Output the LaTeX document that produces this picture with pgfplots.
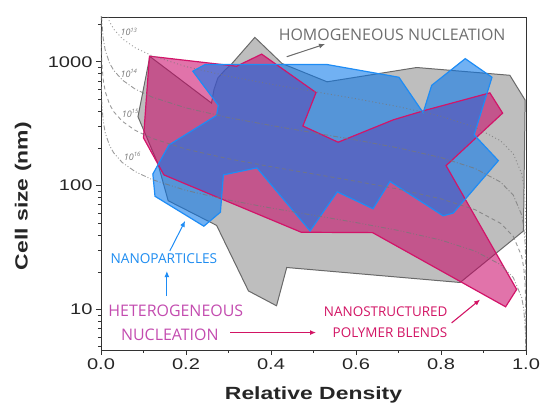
\documentclass[border=0pt]{standalone}
\usepackage{fontspec}
\usepackage{pgfplots}
\usepackage{pgfplotstable}
\pgfplotsset{compat=1.18}
\usetikzlibrary{arrows.meta}
\setmainfont{Liberation Sans}
\newfontfamily\axisfont[FakeStretch=1.3]{Liberation Sans}
\newfontfamily\osans{Open Sans}

\definecolor{grayfill}{RGB}{190,190,190}
\definecolor{grayedge}{RGB}{105,105,105}
\definecolor{pinkfill}{RGB}{200,0,100}
\definecolor{pinkedge}{RGB}{210,20,105}
\definecolor{bluefill}{RGB}{10,120,235}
\definecolor{blueedge}{RGB}{30,140,245}
\definecolor{curvegray}{RGB}{120,120,120}
\definecolor{hettext}{RGB}{195,75,175}
\definecolor{nanotext}{RGB}{210,20,100}
\definecolor{nptext}{RGB}{30,140,240}
\definecolor{homtext}{RGB}{110,110,110}

\pgfplotstableread{
x y
0.087 360
0.115 1104
0.260 464
0.266 600
0.275 740
0.292 860
0.307 957
0.362 1574
0.426 968
0.532 689
0.743 899
0.962 778
0.998 490
0.994 43
0.845 16.5
0.437 21.8
0.413 10.7
0.347 14.1
0.272 47.7
0.158 75.5
0.134 150
}\graydata

\pgfplotstableread{
x y
0.114 1110
0.319 921
0.378 1153
0.506 564
0.475 303
0.558 224
0.688 340
0.762 405
0.915 561
0.945 385
0.812 145
0.978 14.5
0.952 10.5
0.639 41.7
0.471 42
0.148 122
0.100 243
}\pinkdata

\pgfplotstableread{
x y
0.216 840
0.245 950
0.532 950
0.701 750
0.758 388
0.778 645
0.857 1060
0.920 750
0.878 257
0.935 159
0.829 60
0.805 57
0.680 108
0.640 65
0.556 89
0.492 43
0.367 139
0.288 122
0.281 61
0.242 47
0.127 82
0.122 124
0.160 213
0.272 369
0.276 444
}\bluedata

\pgfplotstableread{
x y
0.005 3362
0.01 2664
0.02 2107
0.03 1835
0.05 1536
0.08 1300
0.12 1119
0.2 914
0.3 764
0.4 659
0.5 576
0.6 503
0.7 434
0.8 363
0.88 296
0.94 230
0.97 181
0.99 124.5
0.995 98.7
0.998 72.6
0.999 57.6
0.9997 38.6
0.9999 26.7
0.99999 12.4
0.999999 5.76
0.9999995 4.57
}\cthirteen

\pgfplotstableread{
x y
0.0005 3368
0.002 2120
0.005 1560
0.01 1237
0.02 978
0.03 852
0.05 713
0.08 603
0.12 519
0.2 424
0.3 354
0.4 306
0.5 267
0.6 233.5
0.7 201.5
0.8 168.4
0.88 137.6
0.94 106.8
0.97 83.9
0.99 57.8
0.995 45.8
0.998 33.7
0.999 26.7
0.9997 17.9
0.9999 12.4
0.99999 5.76
0.999997 3.85
}\cfourteen

\pgfplotstableread{
x y
0.0001 2673
0.0005 1564
0.002 984
0.005 724.5
0.01 574
0.02 454
0.03 395
0.05 331
0.08 280
0.12 241
0.2 197
0.3 164.6
0.4 142.1
0.5 124.1
0.6 108.4
0.7 93.6
0.8 78.2
0.88 63.9
0.94 49.6
0.97 39.0
0.99 26.8
0.995 21.3
0.998 15.6
0.999 12.4
0.9997 8.3
0.9999 5.76
0.99999 2.67
}\cfifteen

\pgfplotstableread{
x y
0.00001 2673
0.00002 2122
0.0001 1240
0.0005 726
0.002 457
0.005 336
0.01 266.4
0.02 210.7
0.03 183.5
0.05 153.6
0.08 130
0.12 111.9
0.2 91.4
0.3 76.4
0.4 65.9
0.5 57.6
0.6 50.3
0.7 43.4
0.8 36.3
0.88 29.6
0.94 23.0
0.97 18.1
0.99 12.45
0.995 9.87
0.998 7.26
0.999 5.76
0.9997 3.86
}\csixteen

\begin{document}
\begin{tikzpicture}
\path[use as bounding box] (-101bp,-58bp) rectangle (440bp,350bp);
\begin{axis}[
  at={(0,0)}, anchor=south west,
  width=425bp, height=333bp, scale only axis,
  xmin=0, xmax=1, ymin=4.7, ymax=2300, ymode=log,
  xtick={0,0.2,0.4,0.6,0.8,1.0},
  xticklabels={0.0,0.2,0.4,0.6,0.8,1.0},
  minor xtick={0.1,0.3,0.5,0.7,0.9},
  ytick={10,100,1000}, yticklabels={10,100,1000},
  minor ytick={5,6,7,8,9,20,30,40,50,60,70,80,90,200,300,400,500,600,700,800,900,2000},
  tick pos=left, tick align=outside,
  major tick length=5bp, minor tick length=3bp,
  axis line style={line width=0.8pt, black!80},
  every tick/.style={black!80, line width=0.7pt},
  tick label style={font=\axisfont\fontsize{15.5}{15.5}\selectfont, black!85},
  /pgf/number format/assume math mode=true,
  xlabel={Relative Density}, ylabel={Cell size (nm)},
  label style={font=\axisfont\bfseries\fontsize{17.7}{17.7}\selectfont, black!85},
  xlabel style={at={(axis description cs:0.5,-0.135)}, anchor=center},
  ylabel style={at={(axis description cs:-0.1835,0.462)}, anchor=center},
]
% homogeneous nucleation
\addplot[fill=grayfill, draw=grayedge, line width=1pt] table {\graydata} -- cycle;
% fills
\addplot[fill=pinkfill, fill opacity=0.55, draw=none] table {\pinkdata} -- cycle;
\addplot[fill=bluefill, fill opacity=0.58, draw=none] table {\bluedata} -- cycle;
% edges
\addplot[draw=pinkedge, line width=1.2pt] table {\pinkdata} -- cycle;
\addplot[draw=blueedge, line width=1.2pt] table {\bluedata} -- cycle;
% iso cell-density curves
\addplot[curvegray, opacity=0.75, line width=0.9pt, dash pattern=on 1pt off 2.5pt] table {\cthirteen};
\addplot[curvegray, opacity=0.75, line width=0.9pt, dash pattern=on 5pt off 2pt on 1pt off 2pt] table {\cfourteen};
\addplot[curvegray, opacity=0.75, line width=0.9pt, dash pattern=on 4pt off 3pt] table {\cfifteen};
\addplot[curvegray, opacity=0.75, line width=0.9pt, dash pattern=on 5pt off 2pt on 1pt off 2pt on 1pt off 2pt] table {\csixteen};
% curve labels
\node[font=\osans\itshape\fontsize{9}{9}\selectfont, text=curvegray] at (axis cs:0.066,1745) {10\textsuperscript{13}};
\node[font=\osans\itshape\fontsize{9}{9}\selectfont, text=curvegray] at (axis cs:0.066,803) {10\textsuperscript{14}};
\node[font=\osans\itshape\fontsize{9}{9}\selectfont, text=curvegray] at (axis cs:0.069,381) {10\textsuperscript{15}};
\node[font=\osans\itshape\fontsize{9}{9}\selectfont, text=curvegray] at (axis cs:0.074,171) {10\textsuperscript{16}};
% annotations
\node[font=\osans\fontsize{16}{16}\selectfont, text=homtext] at (axis cs:0.685,1665) {HOMOGENEOUS NUCLEATION};
\draw[-{Latex[length=6bp,width=5bp]}, line width=1pt, grayedge] (axis cs:0.437,1098) -- (axis cs:0.527,1389);
\node[font=\osans\fontsize{13.7}{13.7}\selectfont, text=nptext] at (axis cs:0.148,25.9) {NANOPARTICLES};
\draw[-{Latex[length=6bp,width=5bp]}, line width=1pt, blueedge] (axis cs:0.162,29.7) -- (axis cs:0.198,51.9);
\draw[-{Latex[length=6bp,width=5bp]}, line width=1pt, blueedge] (axis cs:0.155,12.8) -- (axis cs:0.155,20.4);
\node[font=\osans\fontsize{16}{16}\selectfont, text=hettext] at (axis cs:0.176,9.8) {HETEROGENEOUS};
\node[font=\osans\fontsize{16}{16}\selectfont, text=hettext] at (axis cs:0.162,6.25) {NUCLEATION};
\draw[-{Latex[length=6bp,width=5bp]}, line width=1.1pt, nanotext] (axis cs:0.304,6.5) -- (axis cs:0.506,6.5);
\node[font=\osans\fontsize{13.5}{13.5}\selectfont, text=nanotext] at (axis cs:0.670,9.5) {NANOSTRUCTURED};
\node[font=\osans\fontsize{13.5}{13.5}\selectfont, text=nanotext] at (axis cs:0.680,6.5) {POLYMER BLENDS};
\draw[-{Latex[length=6bp,width=5bp]}, line width=1.1pt, nanotext] (axis cs:0.825,7.78) -- (axis cs:0.892,12.0);
\end{axis}
\end{tikzpicture}
\end{document}
